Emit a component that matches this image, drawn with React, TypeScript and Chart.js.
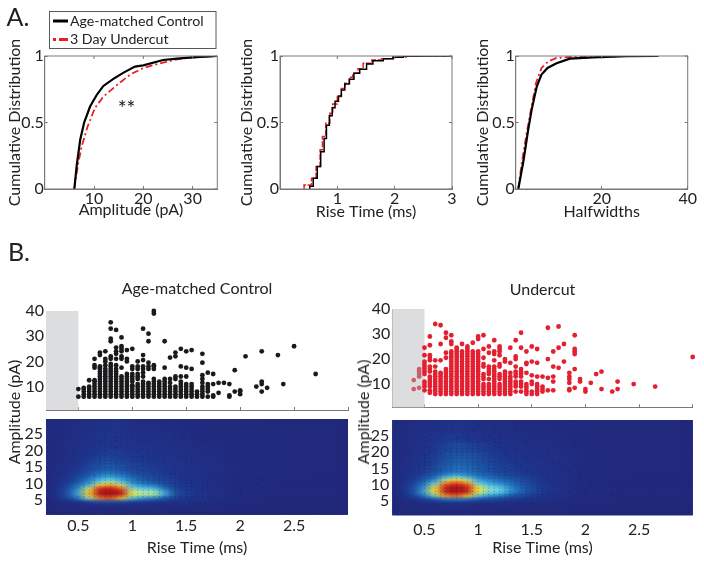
import React, { useEffect, useRef } from "react";
import { Chart, registerables } from "chart.js";

Chart.register(...registerables);

// ---------- Panel A data (cumulative distributions) ----------
const ampControl = [[6,0],[6.5,0.18],[7.2,0.37],[8,0.5],[9.2,0.62],[10.6,0.71],[11.9,0.775],[14,0.83],[16,0.875],[18.3,0.92],[20,0.93],[24,0.97],[26.8,0.98],[30,0.99],[35,1]];
const ampUndercut = [[6,0],[6.8,0.195],[7.5,0.32],[8.7,0.47],[10.2,0.61],[11.9,0.695],[14.6,0.78],[17.3,0.86],[20,0.91],[23.4,0.945],[26.8,0.975],[30,0.99],[35,1]];
const riseControl = [[0.52,0],[0.58,0.02],[0.65,0.08],[0.71,0.17],[0.77,0.28],[0.81,0.38],[0.86,0.48],[0.91,0.55],[0.96,0.61],[1.02,0.66],[1.07,0.7],[1.13,0.745],[1.21,0.79],[1.29,0.825],[1.39,0.87],[1.51,0.9],[1.62,0.94],[1.8,0.965],[1.97,0.98],[2.15,0.99],[2.44,0.998],[3,1]];
const riseUndercut = [[0.42,0],[0.55,0.03],[0.63,0.08],[0.7,0.17],[0.74,0.295],[0.8,0.395],[0.87,0.495],[0.92,0.57],[1,0.64],[1.07,0.695],[1.13,0.755],[1.21,0.795],[1.27,0.84],[1.36,0.87],[1.45,0.905],[1.6,0.945],[1.77,0.97],[1.97,0.98],[2.2,0.992],[2.61,0.998],[3,1]];
const halfControl = [[0.6,0],[1.8,0.21],[2.9,0.445],[3.7,0.595],[4.9,0.77],[6,0.86],[7.4,0.91],[9.5,0.945],[12.6,0.98],[18,0.99],[25.8,0.998],[33.2,1]];
const halfUndercut = [[0.6,0],[1.4,0.195],[2.6,0.43],[3.7,0.62],[4.7,0.795],[6,0.91],[7.6,0.96],[9.5,0.985],[13.4,0.995],[29,1]];

const cdfYTicks = [0, 0.5, 1];
const ampTicks = [10, 20, 30];
const riseTicks = [1, 2, 3];
const halfTicks = [20, 40];

// ---------- Panel B scatter data: [rise time, amplitudes in that column] ----------
const controlColumns: [number, number[]][] = [
  [0.5,[6,9]],
  [0.55,[6,7,8,9,9.5]],
  [0.6,[6,7,8,9,10,12.5]],
  [0.65,[6,7,8,9,10,11,12,12.5,17.5,18.5,21]],
  [0.7,[6,7,8,9,10,11,12,13,14,15,16,17,17.5,18,22.5,23.5]],
  [0.75,[6,7,8,9,10,11,12,13,14,15,16,17,18.5,20,21,24]],
  [0.8,[6,7,8,9,10,11,12,13,14,15,16,17,18,19,21,22,28,29,33,35.5]],
  [0.85,[6,7,8,9,10,11,12,13,14,15,16,17,18.5,21,23,24,25.5,32.5]],
  [0.9,[6,7,8,9,10,11,12,13,14,17.5,21,22,24,25,26,29.5]],
  [0.95,[6,7,8,9,10,11,12,13,14,15,20,21,24.5]],
  [1,[6,7,8,9,10,10.5,12,13,14,15,17,18,25]],
  [1.05,[6,7,8,9,10,11,13,14,15,17,18,20]],
  [1.1,[6,7,8,9,10,11,12,14,15.5,17,18,20.5,22.5,33]],
  [1.15,[6,7,8,9,10,11,11.5,17,18,19.5,28,31]],
  [1.2,[6,7,8,9,10,11,12,13,17,18,18.5,39,40]],
  [1.25,[6,7,8,9,10,11,12]],
  [1.3,[6,7,8,9,10,11,12,13,17.5,28]],
  [1.35,[6,7,8,9,10,11.5,13,21.5]],
  [1.4,[6,7,8,9,10,13,14,22,23.5]],
  [1.45,[6,7,8,9,10,11,12,14,18,25]],
  [1.5,[6,7,8,9,10,11,14,17.5,24]],
  [1.55,[6,7,8,9,10,11,17,24.5]],
  [1.6,[6,7,8]],
  [1.65,[6,7,8,9,10,11.5,13,14.5,19.5,23]],
  [1.7,[6,8,9,10,11,15.5]],
  [1.75,[6,6.5,11,15]],
  [1.8,[7.5,11.5]],
  [1.85,[11.5]],
  [1.9,[6,6.5,11]],
  [1.95,[8,16.5]],
  [2,[7,8,8.5]],
  [2.05,[22]],
  [2.15,[10]],
  [2.2,[8,11,12,24]],
  [2.25,[9.5]],
  [2.35,[22.5]],
  [2.4,[11]],
  [2.5,[26]],
  [2.7,[15]],
];
const undercutColumns: [number, number[]][] = [
  [0.4,[8,11.6]],
  [0.45,[8.5,13,14,15,16]],
  [0.5,[7.5,9,10,11,14,15,16,17,18,19,21.5,24.5]],
  [0.55,[6.5,7.5,9,10,11,12,13,15,16,17,19.5,20.5,21.5,25.5,29]],
  [0.6,[6,7,8,9,10,11,12,13,14,15,17,19.5,34]],
  [0.65,[6,7,8,9,10,11,12,13,14,14.5,19.5,26,33.5]],
  [0.7,[6,7,8,9,10,11,12,13,14,15,16,20.5,22.5,28.5,30.5]],
  [0.75,[6,7,8,9,10,11,12,13,14,15,16,17,18,19,20,21,22,23,26,27,29.5]],
  [0.8,[6,7,8,9,10,11,12,13,14,15,16,17,18,19,20,21,22,23,24,24.5]],
  [0.85,[6,7,8,9,10,11,12,13,14,15,16,17,18,19,20,21,22,23,26]],
  [0.9,[6,7,8,9,10,11,12,13,14,15,16,17,18,19,20,21,22,23,24,25]],
  [0.95,[6,7,8,9,10,11,12,13,14,15,16,17,18,19,20,21,22,23,26.5]],
  [1,[6,7,8,9,10,11,12,13,14,15,16,17,18,19,20,21,22,23,28,29]],
  [1.05,[6,7,8,9,10,12,13,14,17,18,20.5,24,29.5]],
  [1.1,[6,7,8,9,10,12,14,15,16,17,22.5,25]],
  [1.15,[6,7,8,9,10,11,12,13,14,15,16,17,19.5,22,23,27.5]],
  [1.2,[6,7,8,9,10,12,13,14,17,18,21.5,23,24,25]],
  [1.25,[6,7,8,9,10,11,12,13,14,15,19,20]],
  [1.3,[6,7,8,9,10,11,12,13,14.5,18.5,24.5]],
  [1.35,[7,9,10,11,13,14,15,17,20,21,27.5]],
  [1.4,[7,9,10,11,13,14,15,16,24.5,30.5]],
  [1.45,[6,7,8,9,10,14.5,18,18.5,23]],
  [1.5,[6,7,10,11,13.5,19,25]],
  [1.55,[6,7,8,9,10,13,18.5,24]],
  [1.6,[7,8,9,13]],
  [1.65,[7.5,12.5,20,32.5]],
  [1.7,[7.5,11,13,17,23]],
  [1.75,[16.5,24.5,33]],
  [1.8,[19,26]],
  [1.85,[7.5,8,10.5,12,13,14.5]],
  [1.9,[8.5,16,22,23,24,29.5]],
  [1.95,[11,12]],
  [2,[7,8]],
  [2.05,[10.5]],
  [2.1,[14]],
  [2.15,[8,15]],
  [2.25,[7]],
  [2.3,[8,11]],
  [2.45,[10]],
  [2.65,[9]],
  [3,[20.8]],
];
const scatterXTicks = [0.5, 1, 1.5, 2, 2.5, 3];
const scatterYTicks = [10, 20, 30, 40];
const excludedBand = [0.2, 0.5];

// ---------- Panel B density maps ----------
const heatXTicks = [0.5, 1, 1.5, 2, 2.5];
const heatYTicks = [5, 10, 15, 20, 25];
const heatRise = [0.2,0.3,0.4,0.5,0.6,0.7,0.8,0.9,1,1.1,1.2,1.3,1.4,1.5,1.6,1.7,1.8,1.9,2,2.1,2.2,2.3,2.4,2.5,2.6,2.7,2.8,2.9,3];
const heatEdges = [30,26,23,20,18,16,14,13,12,11,10,9,8,7,6,5,4,2.5,0];
const controlDensity = [
  [2,3,4,5,6,8,10,9,6,5,5,4,4,3,3,2,2,2,2,2,2,1,1,1,1,1,1,1,1],
  [2,3,4,6,8,10,11,10,8,7,7,6,5,4,3,3,2,2,3,3,2,2,2,2,1,1,1,1,1],
  [2,3,5,7,9,12,13,12,10,9,9,8,7,6,5,4,4,3,3,3,3,3,3,2,2,1,1,1,1],
  [2,3,5,8,11,14,16,14,12,11,10,9,8,7,6,5,4,3,3,3,3,3,2,2,2,1,1,1,1],
  [2,4,6,10,14,19,20,17,15,13,12,10,9,8,7,6,4,3,3,3,3,2,2,2,2,1,1,1,1],
  [2,4,8,12,18,24,26,22,18,16,14,12,10,9,8,6,5,4,3,3,3,3,2,2,2,1,1,1,1],
  [2,5,9,14,22,29,31,27,22,18,16,13,11,10,8,7,5,4,3,3,3,3,2,2,2,1,1,1,1],
  [2,5,10,17,26,35,38,33,26,21,18,15,12,10,9,7,5,4,3,3,3,2,2,2,2,1,1,1,1],
  [2,6,12,21,31,42,46,40,31,25,21,17,13,11,9,7,5,4,3,3,2,2,2,2,1,1,1,1,1],
  [2,6,14,25,37,50,56,47,36,29,25,19,14,11,9,7,5,4,3,3,2,2,2,1,1,1,1,1,1],
  [2,7,17,31,45,66,74,60,44,37,33,24,16,12,9,7,5,4,3,3,2,2,1,1,1,1,1,1,1],
  [2,8,20,37,58,86,92,80,52,48,45,31,18,13,10,8,5,4,3,3,2,2,1,1,1,1,1,1,1],
  [2,8,22,42,68,96,98,92,60,56,56,42,22,15,11,8,6,4,3,3,2,2,1,1,1,1,1,1,1],
  [2,8,22,42,70,96,98,93,62,58,58,44,23,16,12,9,6,4,3,3,2,2,1,1,1,1,1,1,1],
  [2,7,18,34,56,78,82,70,48,40,36,26,16,12,10,8,6,4,3,2,2,1,1,1,1,1,1,1,1],
  [1,3,7,12,18,24,25,22,18,15,14,12,10,8,6,5,4,3,2,2,1,1,1,1,1,1,1,1,1],
  [0,1,2,3,4,5,5,5,4,4,4,3,3,3,2,2,1,1,1,1,1,0,0,0,0,0,0,0,0],
  [0,1,1,2,2,2,2,2,2,2,2,2,1,1,1,1,1,0,0,0,0,0,0,0,0,0,0,0,0],
];
const undercutDensity = [
  [3,4,5,6,7,9,10,9,7,6,5,5,4,4,4,3,3,3,2,2,1,1,1,1,1,1,1,1,1],
  [3,4,6,8,10,13,14,12,10,8,7,7,6,5,5,4,4,3,3,2,2,2,1,1,1,1,1,1,1],
  [3,5,7,9,13,18,21,19,16,13,11,9,8,7,6,5,4,4,3,3,2,2,2,2,1,1,1,1,1],
  [3,5,8,11,15,21,25,24,21,16,13,11,10,8,7,6,5,4,3,3,2,2,2,2,1,1,1,1,1],
  [3,5,9,12,17,24,28,27,24,19,15,13,11,9,8,6,5,4,3,3,2,2,2,1,1,1,1,1,1],
  [3,6,10,14,20,27,31,30,26,22,18,15,13,11,9,7,5,4,3,3,2,2,2,1,1,1,1,1,1],
  [2,6,11,16,24,32,37,34,29,25,21,18,15,12,9,7,5,4,3,3,2,2,1,1,1,1,1,1,1],
  [2,6,13,20,30,42,48,42,34,29,25,21,17,14,11,8,5,4,3,2,2,2,1,1,1,1,1,1,1],
  [2,7,15,25,38,58,66,58,42,36,31,26,20,16,12,8,6,4,3,2,2,1,1,1,1,1,1,1,1],
  [2,7,18,31,50,76,84,74,50,42,37,31,24,18,13,9,6,4,3,2,2,1,1,1,1,1,1,1,1],
  [2,8,20,37,60,90,96,88,60,50,46,36,27,20,14,10,6,4,3,2,2,1,1,1,1,1,1,1,1],
  [2,8,22,42,64,94,98,92,64,54,52,40,29,21,15,10,6,4,3,2,2,1,1,1,1,1,1,1,1],
  [2,8,22,42,64,92,97,90,62,52,50,38,27,20,14,10,6,4,3,2,2,1,1,1,1,1,1,1,1],
  [2,7,18,33,52,74,80,68,48,40,34,26,20,16,12,9,6,4,3,2,2,1,1,1,1,1,1,1,1],
  [1,4,9,15,24,32,34,30,24,20,18,14,11,9,7,6,4,3,2,2,1,1,1,1,1,1,1,1,1],
  [1,2,4,6,8,10,10,9,8,7,6,6,5,4,4,3,2,2,1,1,1,1,1,1,1,1,1,1,1],
  [0,1,2,3,3,4,4,4,3,3,3,3,2,2,2,2,1,1,1,1,1,0,0,0,0,0,0,0,0],
  [0,1,1,1,2,2,2,2,2,2,1,1,1,1,1,1,1,0,0,0,0,0,0,0,0,0,0,0,0],
];
const colorStops: [number, number[]][] = [
  [0,[33,40,122]],[12,[30,52,140]],[25,[28,84,165]],[38,[40,135,205]],[50,[90,205,235]],
  [57,[170,228,170]],[63,[250,234,40]],[70,[252,200,30]],[78,[245,120,30]],[86,[226,36,32]],[100,[150,20,26]],
];

const FONT = "Lato";
const TEXT = "#222224";
const AXIS = "#77787b";
const BLACK = "#000000";
const RED = "#ed1c24";

const heatColor = (v: number) => {
  for (let i = 1; i < colorStops.length; i++) {
    const [b, cb] = colorStops[i];
    const [a, ca] = colorStops[i - 1];
    if (v <= b) {
      const t = (v - a) / (b - a);
      const c = ca.map((q, k) => Math.round(q + (cb[k] - q) * t));
      return `rgb(${c[0]},${c[1]},${c[2]})`;
    }
  }
  return "rgb(150,20,26)";
};

const pairs = (rows: number[][]) => rows.map(([x, y]) => ({ x, y }));
const flatten = (cols: [number, number[]][]) =>
  cols.flatMap(([x, ys]) => ys.map((y) => ({ x, y })));

type Box = { x: number; y: number; w: number; h: number; left: number; top: number; right: number; bottom: number };

const fixedTicks = (vals: number[]) => (s: any) => {
  s.ticks = vals.map((value) => ({ value }));
};

function axis(o: {
  vals: number[]; min: number; max: number; size: (s: any) => void; title?: string; titlePad?: any; titleSize?: number;
  labels?: boolean; pad?: number; inward?: boolean; line?: boolean; fontSize?: number;
}) {
  const inward = o.inward !== false;
  return {
    type: "linear", min: o.min, max: o.max, offset: false,
    afterBuildTicks: fixedTicks(o.vals),
    afterFit: (s: any) => {
      o.size(s);
      s.paddingTop = s.paddingBottom = s.paddingLeft = s.paddingRight = 0;
    },
    border: { display: o.line !== false, color: AXIS, width: 1 },
    grid: { offset: false, drawOnChartArea: false, drawTicks: inward, tickLength: -3, color: AXIS, lineWidth: 1 },
    ticks: {
      display: o.labels !== false, autoSkip: false, maxRotation: 0, color: TEXT,
      padding: (o.pad ?? 0) + (inward ? 3 : 0),
      font: { family: FONT, size: o.fontSize ?? 16 },
      callback: (v: any) => String(v),
    },
    title: o.title
      ? { display: true, text: o.title, color: TEXT, padding: o.titlePad, font: { family: FONT, size: o.titleSize ?? 16 } }
      : { display: false },
  };
}

const framePlugin = {
  id: "frame",
  afterDraw(chart: any) {
    const { ctx, chartArea: a, scales } = chart;
    ctx.save();
    ctx.strokeStyle = AXIS;
    ctx.lineWidth = 1;
    ctx.strokeRect(a.left, a.top, a.right - a.left, a.bottom - a.top);
    ctx.beginPath();
    scales.x.ticks.forEach((t: any) => {
      const p = scales.x.getPixelForValue(t.value);
      ctx.moveTo(p, a.top);
      ctx.lineTo(p, a.top + 3);
    });
    scales.y.ticks.forEach((t: any) => {
      const p = scales.y.getPixelForValue(t.value);
      ctx.moveTo(a.right, p);
      ctx.lineTo(a.right - 3, p);
    });
    ctx.stroke();
    ctx.restore();
  },
};

const legendPlugin = {
  id: "boxLegend",
  afterDraw(chart: any) {
    const { ctx } = chart;
    const [a, b] = chart.data.datasets;
    ctx.save();
    ctx.fillStyle = "#fff";
    ctx.fillRect(49.5, 11.5, 166.5, 37);
    ctx.strokeStyle = "#58595b";
    ctx.lineWidth = 1;
    ctx.strokeRect(49.5, 11.5, 166.5, 37);
    ctx.lineWidth = 3;
    ctx.strokeStyle = a.borderColor;
    ctx.beginPath();
    ctx.moveTo(53, 21);
    ctx.lineTo(68, 21);
    ctx.stroke();
    ctx.strokeStyle = b.borderColor;
    ctx.setLineDash([3, 3, 10, 0]);
    ctx.beginPath();
    ctx.moveTo(53, 39.5);
    ctx.lineTo(68, 39.5);
    ctx.stroke();
    ctx.setLineDash([]);
    ctx.fillStyle = TEXT;
    ctx.font = `14.2px ${FONT}`;
    ctx.textBaseline = "middle";
    ctx.fillText(a.label, 70, 21);
    ctx.fillText(b.label, 70, 39.5);
    ctx.restore();
  },
};

const starsPlugin = {
  id: "stars",
  afterDatasetsDraw(chart: any) {
    const { ctx, scales } = chart;
    ctx.save();
    ctx.fillStyle = TEXT;
    ctx.font = `21px ${FONT}`;
    ctx.textAlign = "center";
    ctx.textBaseline = "middle";
    ctx.fillText("**", scales.x.getPixelForValue(16.6), scales.y.getPixelForValue(0.6));
    ctx.restore();
  },
};

const bandPlugin = {
  id: "band",
  beforeDatasetsDraw(chart: any) {
    const { ctx, chartArea: a, scales } = chart;
    const x0 = scales.x.getPixelForValue(excludedBand[0]);
    const x1 = scales.x.getPixelForValue(excludedBand[1]);
    ctx.save();
    ctx.fillStyle = "#dcddde";
    ctx.fillRect(x0, a.top, x1 - x0, a.bottom - a.top);
    ctx.restore();
  },
};

const smoothPlugin = {
  id: "smooth",
  beforeDatasetsDraw(chart: any) {
    const { ctx, chartArea: a } = chart;
    ctx.save();
    ctx.fillStyle = heatColor(0);
    ctx.fillRect(a.left, a.top, a.right - a.left, a.bottom - a.top);
    ctx.restore();
  },
  afterDatasetDraw(chart: any, args: any) {
    if (args.meta.type !== "bar") return;
    const { ctx, chartArea: a, canvas } = chart;
    const r = chart.currentDevicePixelRatio;
    const w = a.right - a.left;
    const h = a.bottom - a.top;
    const k = 3;
    const off = document.createElement("canvas");
    off.width = Math.round(w * r);
    off.height = Math.round(h * r * k);
    const oc = off.getContext("2d") as any;
    oc.filter = `blur(${4 * r}px)`;
    oc.drawImage(canvas, a.left * r, a.top * r, w * r, h * r, 0, 0, off.width, off.height);
    ctx.drawImage(off, a.left, a.top, w, h);
  },
};

function cdfConfig(o: {
  box: Box; black: number[][]; red: number[][]; xMax: number; xTicks: number[]; xTitle: string;
  yPad: number; xPad: number; stepped?: boolean; extra?: any[];
}) {
  const line = {
    parsing: false as const, pointRadius: 0, fill: false, tension: 0, stepped: o.stepped ? ("after" as const) : false,
  };
  return {
    type: "line",
    data: {
      datasets: [
        { ...line, label: "Age-matched Control", data: pairs(o.black), borderColor: BLACK, borderWidth: o.stepped ? 1.5 : 2.2 },
        { ...line, label: "3 Day Undercut", data: pairs(o.red), borderColor: RED, borderWidth: o.stepped ? 1.5 : 1.8, borderDash: o.stepped ? [6, 1.5] : [7, 3, 2, 3] },
      ],
    },
    plugins: [framePlugin, ...(o.extra ?? [])],
    options: chartOptions(o.box, {
      x: axis({ vals: o.xTicks, min: 0, max: o.xMax, pad: 0, title: o.xTitle, titlePad: { top: 0, bottom: o.xPad }, size: (s) => { s.height = o.box.bottom; } }),
      y: axis({ vals: cdfYTicks, min: 0, max: 1, pad: 1, title: "Cumulative Distribution", titlePad: { top: o.yPad, bottom: 0 }, size: (s) => { s.width = o.box.left; } }),
    }),
  };
}

function chartOptions(box: Box, scales: any, title?: any) {
  return {
    responsive: false, animation: false, events: [],
    layout: { padding: { left: 0, bottom: 0, top: title ? 0 : box.top, right: box.right } },
    plugins: { legend: { display: false }, tooltip: { enabled: false }, title: title ?? { display: false } },
    scales,
  };
}

function scatterConfig(box: Box, cols: [number, number[]][], color: string, yMin: number, label: string, dim: string, tp: any, tickPad: number) {
  return {
    type: "scatter",
    data: {
      datasets: [{
        label, data: flatten(cols), clip: false, pointRadius: 2.4, borderWidth: 0, pointBorderWidth: 0,
        pointBackgroundColor: (c: any) => (c.raw && c.raw.x < excludedBand[1] ? dim : color),
      }],
    },
    plugins: [bandPlugin],
    options: chartOptions(box, {
      x: axis({ vals: scatterXTicks, min: 0.2, max: 3, labels: false, size: (s) => { s.height = box.bottom; } }),
      y: axis({ vals: scatterYTicks, min: yMin, max: 40, pad: tickPad, size: (s) => { s.width = box.left; } }),
    }, {
      display: true, text: label, fullSize: false, color: TEXT, font: { family: FONT, size: 16, weight: "normal" }, padding: tp,
    }),
  };
}

function heatConfig(box: Box, grid: number[][], cols: [number, number[]][], yMin: number, yMax: number, xPad: number) {
  const cells = grid.flatMap((row, r) =>
    row.map((v, c) => ({ x: heatRise[c], y: [heatEdges[r + 1], heatEdges[r]], v }))
  );
  return {
    type: "bar",
    data: {
      datasets: [
        { type: "scatter", order: 0, data: flatten(cols), pointRadius: 0.6, borderWidth: 0, pointBackgroundColor: "rgba(0,0,0,0.3)" },
        {
          type: "bar", order: 1, data: cells, barPercentage: 1, categoryPercentage: 1, grouped: false, borderWidth: 0,
          backgroundColor: (c: any) => (c.raw ? heatColor(c.raw.v) : heatColor(0)),
        },
      ],
    },
    plugins: [smoothPlugin],
    options: chartOptions(box, {
      x: axis({ vals: heatXTicks, min: 0.2, max: 3, inward: false, line: false, pad: xPad, title: "Rise Time (ms)", titlePad: { top: 0, bottom: 5.5 }, size: (s) => { s.height = box.bottom; } }),
      y: axis({ vals: heatYTicks, min: yMin, max: yMax, inward: false, line: false, pad: 3, size: (s) => { s.width = box.left; } }),
    }),
  };
}

const boxes: Record<string, Box> = {
  a1: { x: 0, y: 0, w: 232, h: 225, left: 44.7, top: 56, right: 14.7, bottom: 36 },
  a2: { x: 232, y: 30, w: 232, h: 195, left: 48, top: 26, right: 12, bottom: 36 },
  a3: { x: 466, y: 30, w: 238, h: 195, left: 49.7, top: 26, right: 16.3, bottom: 36 },
  s1: { x: 0, y: 275, w: 352, h: 140, left: 46, top: 36, right: 4, bottom: 5 },
  s2: { x: 352, y: 275, w: 352, h: 137, left: 40.3, top: 34, right: 11.3, bottom: 4.7 },
  h1: { x: 0, y: 414, w: 352, h: 149, left: 46, top: 5, right: 4, bottom: 48.3 },
  h2: { x: 352, y: 414, w: 352, h: 149, left: 40.3, top: 6, right: 11.3, bottom: 47.7 },
};

const configs: Record<string, any> = {
  a1: cdfConfig({ box: boxes.a1, black: ampControl, red: ampUndercut, xMax: 35, xTicks: ampTicks, xTitle: "Amplitude (pA)", yPad: 5.4, xPad: 5.4, extra: [legendPlugin, starsPlugin] }),
  a2: cdfConfig({ box: boxes.a2, black: riseControl, red: riseUndercut, xMax: 3, xTicks: riseTicks, xTitle: "Rise Time (ms)", yPad: 5.4, xPad: 3.4, stepped: true }),
  a3: cdfConfig({ box: boxes.a3, black: halfControl, red: halfUndercut, xMax: 40, xTicks: halfTicks, xTitle: "Halfwidths", yPad: 7.4, xPad: 3.4 }),
  s1: scatterConfig(boxes.s1, controlColumns, "#1a1a1c", 0.7, "Age-matched Control", "#555", { top: 4, bottom: 12.8 }, 2),
  s2: scatterConfig(boxes.s2, undercutColumns, "#e31f30", 0.7, "Undercut", "#c9606e", { top: 5, bottom: 9.8 }, 2),
  h1: heatConfig(boxes.h1, controlDensity, controlColumns, 0.55, 29.5, 2),
  h2: heatConfig(boxes.h2, undercutDensity, undercutColumns, 0.7, 29.8, 5),
};

const Panel = ({ id }: { id: string }) => {
  const ref = useRef<HTMLCanvasElement>(null);
  const b = boxes[id];
  useEffect(() => {
    const chart = new Chart(ref.current as any, configs[id]);
    return () => chart.destroy();
  }, [id]);
  return (
    <canvas
      ref={ref}
      width={b.w}
      height={b.h}
      style={{ position: "absolute", left: b.x, top: b.y, width: b.w, height: b.h }}
    />
  );
};

const Label = ({ text, x, y, size, rotate }: { text: string; x: number; y: number; size: number; rotate?: boolean }) => (
  <div
    style={{
      position: "absolute", left: x, top: y, fontFamily: FONT, fontSize: size, color: TEXT, lineHeight: 1, whiteSpace: "nowrap",
      transform: `translate(-50%,-50%)${rotate ? " rotate(-90deg)" : ""}`,
    }}
  >
    {text}
  </div>
);

export default function App() {
  useEffect(() => {
    document.documentElement.style.overflow = "hidden";
  }, []);
  return (
    <div style={{ position: "absolute", left: 0, top: 0, width: 704, height: 563, background: "#fff", overflow: "hidden" }}>
      {Object.keys(boxes).map((id) => (
        <Panel key={id} id={id} />
      ))}
      <Label text="A." x={18} y={16} size={25} />
      <Label text="B." x={19} y={251} size={25} />
      <Label text="Amplitude (pA)" x={14} y={412} size={16} rotate />
      <Label text="Amplitude (pA)" x={363} y={412} size={16} rotate />
    </div>
  );
}
